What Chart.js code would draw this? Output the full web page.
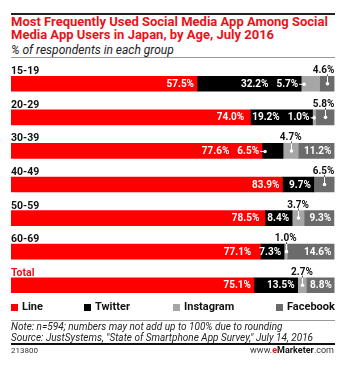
<!DOCTYPE html>
<html><head><meta charset="utf-8">
<script src="https://cdn.jsdelivr.net/npm/chart.js@4.4.1/dist/chart.umd.min.js"></script>
<style>
html,body{margin:0;padding:0;background:#fff;}
#wrap{position:relative;width:353px;height:369px;overflow:hidden;font-family:Roboto,"Liberation Sans",sans-serif;}
.abs{position:absolute;white-space:nowrap;}
#topline{left:11px;top:13px;width:324px;height:2px;background:#222;}
#title{left:11px;top:16px;font-weight:bold;font-size:13px;line-height:12.5px;color:#e8131b;}
#sub{left:11px;top:43px;font-style:italic;font-size:12px;color:#222;}
#subline{left:11px;top:57px;width:324px;height:1px;background:#999;}
#chartbox{left:0;top:60px;width:353px;height:242px;}
.sw{position:absolute;width:7px;height:7px;top:304px;}
.lg{position:absolute;top:300px;font-weight:bold;font-size:11px;color:#111;}
#noteline{left:11px;top:320px;width:324px;height:1px;background:#999;}
#note{left:11px;top:322px;font-style:italic;font-size:10px;line-height:10.5px;color:#222;}
#botline{left:11px;top:343px;width:324px;height:2px;background:#111;}
#id{left:11px;top:346px;font-size:8px;color:#333;}
#brand{right:19px;top:345px;font-size:9px;color:#333;}
</style></head>
<body>
<div id="wrap">
  <div class="abs" id="topline"></div>
  <div class="abs" id="title">Most Frequently Used Social Media App Among Social<br>Media App Users in Japan, by Age, July 2016</div>
  <div class="abs" id="sub">% of respondents in each group</div>
  <div class="abs" id="subline"></div>
  <div class="abs" id="chartbox"><canvas id="c" width="353" height="242"></canvas></div>
  <div id="legend"></div>
  <div class="abs" id="noteline"></div>
  <div class="abs" id="note">Note: n=594; numbers may not add up to 100% due to rounding<br>Source: JustSystems, "State of Smartphone App Survey," July 14, 2016</div>
  <div class="abs" id="botline"></div>
  <div class="abs" id="id">213800</div>
  <div class="abs" id="brand">www.<b style="color:#e8131b">e</b><b style="color:#111">Marketer</b>.com</div>
</div>
<script>
const categories = ['15-19','20-29','30-39','40-49','50-59','60-69','Total'];
const seriesNames = ['Line','Twitter','Instagram','Facebook'];
const lineValues = [57.5, 74.0, 77.6, 83.9, 78.5, 77.1, 75.1];
const twitterValues = [32.2, 19.2, 6.5, 9.7, 8.4, 7.3, 13.5];
const instagramValues = [5.7, 1.0, 4.7, 0, 3.7, 1.0, 2.7];
const facebookValues = [4.6, 5.8, 11.2, 6.5, 9.3, 14.6, 8.8];
const seriesColors = ['#ff0000', '#000000', '#a6a6a6', '#6b6b6b'];
// label placement per row/series: i = inside, l = callout to the left, u = callout above, n = none
const labelModes = [
  ['i','i','l','u'],
  ['i','i','l','u'],
  ['i','l','u','i'],
  ['i','i','n','u'],
  ['i','i','u','i'],
  ['i','i','u','i'],
  ['i','i','u','i']
];
const legendX = [11, 84, 173, 276];

// HTML legend
const lg = document.getElementById('legend');
seriesNames.forEach((n, k) => {
  const s = document.createElement('div');
  s.className = 'sw'; s.style.left = legendX[k] + 'px'; s.style.background = seriesColors[k];
  lg.appendChild(s);
  const t = document.createElement('div');
  t.className = 'lg'; t.style.left = (legendX[k] + 11) + 'px'; t.textContent = n;
  lg.appendChild(t);
});

const allValues = [lineValues, twitterValues, instagramValues, facebookValues];
const fmt = v => v.toFixed(1) + '%';
const VFONT = 'bold 10px Roboto, "Liberation Sans", sans-serif';

const labelPlugin = {
  id: 'labels',
  afterDatasetsDraw(chart) {
    const ctx = chart.ctx;
    const area = chart.chartArea;
    ctx.save();
    categories.forEach((cat, i) => {
      const bars = allValues.map((_, k) => chart.getDatasetMeta(k).data[i]);
      const b0 = bars[0];
      const h = b0.height;
      const yc = b0.y;
      const top = yc - h / 2;
      // category label
      ctx.font = 'bold 10.5px Roboto, "Liberation Sans", sans-serif';
      ctx.fillStyle = cat === 'Total' ? '#e8131b' : '#111';
      ctx.textAlign = 'left'; ctx.textBaseline = 'alphabetic';
      ctx.fillText(cat, area.left, top - 2);
      // value labels, right to left
      ctx.font = VFONT;
      let limit = Infinity;
      for (let k = allValues.length - 1; k >= 0; k--) {
        const mode = labelModes[i][k];
        const v = allValues[k][i];
        const bar = bars[k];
        const start = Math.min(bar.base, bar.x), end = Math.max(bar.base, bar.x);
        const w = end - start;
        const txt = fmt(v);
        const tw = ctx.measureText(txt).width;
        if (mode === 'i') {
          const x = Math.min(end - 3, limit);
          ctx.fillStyle = '#fff'; ctx.textAlign = 'right'; ctx.textBaseline = 'middle';
          ctx.fillText(txt, x, yc + 0.5);
          limit = x - tw - 8;
        } else if (mode === 'l') {
          const x = Math.min(start - 3, limit);
          const dotX = start + Math.min(w / 2, 3);
          ctx.fillStyle = '#fff'; ctx.textAlign = 'right'; ctx.textBaseline = 'middle';
          ctx.fillText(txt, x, yc + 0.5);
          ctx.strokeStyle = '#fff'; ctx.lineWidth = 1;
          ctx.beginPath(); ctx.moveTo(x + 1, yc + 0.5); ctx.lineTo(dotX, yc + 0.5); ctx.stroke();
          ctx.beginPath(); ctx.arc(dotX, yc + 0.5, 1.8, 0, Math.PI * 2); ctx.fill();
          limit = x - tw - 8;
        } else if (mode === 'u') {
          const cx = start + w / 2;
          let lx = cx - tw / 2;
          if (lx + tw > area.right) lx = area.right - tw;
          ctx.fillStyle = '#111'; ctx.textAlign = 'left'; ctx.textBaseline = 'alphabetic';
          ctx.fillText(txt, lx, top - 3);
          ctx.lineWidth = 1;
          ctx.strokeStyle = '#555';
          ctx.beginPath(); ctx.moveTo(Math.round(cx) + 0.5, top - 2); ctx.lineTo(Math.round(cx) + 0.5, top); ctx.stroke();
          ctx.strokeStyle = '#fff';
          ctx.beginPath(); ctx.moveTo(Math.round(cx) + 0.5, top); ctx.lineTo(Math.round(cx) + 0.5, yc); ctx.stroke();
          ctx.fillStyle = '#fff';
          ctx.beginPath(); ctx.arc(Math.round(cx) + 0.5, yc, 1.8, 0, Math.PI * 2); ctx.fill();
        }
      }
    });
    ctx.restore();
  }
};

new Chart(document.getElementById('c'), {
  type: 'bar',
  data: {
    labels: categories,
    datasets: allValues.map((vals, k) => ({
      label: seriesNames[k],
      data: vals,
      backgroundColor: seriesColors[k],
      borderWidth: 0,
      barThickness: 15
    }))
  },
  options: {
    indexAxis: 'y',
    responsive: false,
    animation: false,
    layout: { padding: { left: 11, right: 18.5, top: 7, bottom: 0 } },
    scales: {
      x: { stacked: true, min: 0, max: 100, display: false },
      y: { stacked: true, display: false }
    },
    plugins: { legend: { display: false }, tooltip: { enabled: false } }
  },
  plugins: [labelPlugin]
});
</script>
</body></html>
